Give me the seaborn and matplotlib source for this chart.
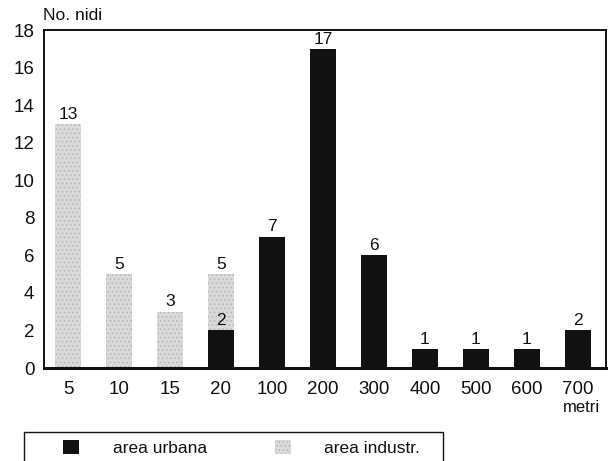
import matplotlib
matplotlib.use("Agg")
import matplotlib.pyplot as plt
from matplotlib.colors import to_rgba
from matplotlib.patches import Patch, Rectangle
import numpy as np
import pandas as pd
import seaborn as sns

# Distance classes (metres) and nest counts per area type
distanze = ["5", "10", "15", "20", "100", "200", "300", "400", "500", "600", "700"]
urbana = [np.nan, np.nan, np.nan, 2, 7, 17, 6, 1, 1, 1, 2]
industriale = [13, 5, 3, 5, np.nan, np.nan, np.nan, np.nan, np.nan, np.nan, np.nan]
y_ticks = [0, 2, 4, 6, 8, 10, 12, 14, 16, 18]

COL_URB = "#111111"
COL_IND = "#dadada"
DOT_IND = "#b4b4b4"

df = pd.DataFrame({
    "distanza": distanze * 2,
    "nidi": industriale + urbana,
    "area": ["area industr."] * len(distanze) + ["area urbana"] * len(distanze),
})

sns.set_theme(style="white")
plt.rcParams["font.family"] = ["Liberation Sans", "DejaVu Sans"]
plt.rcParams["hatch.linewidth"] = 0.6

fig = plt.figure(figsize=(6.16, 4.61), dpi=100)
ax = fig.add_axes([0.0714, 0.2017, 0.9124, 0.7332])

# industrial bars first so urban bars sit on top where both exist
sns.barplot(data=df, x="distanza", y="nidi", hue="area", order=distanze,
            hue_order=["area industr.", "area urbana"],
            palette={"area industr.": COL_IND, "area urbana": COL_URB},
            dodge=False, width=0.5, saturation=1, legend=False, ax=ax,
            edgecolor="none", linewidth=0)

# stippled texture on the industrial bars only
ind_rgba = to_rgba(COL_IND)
for p in ax.patches:
    if np.allclose(p.get_facecolor(), ind_rgba, atol=0.01):
        p.set_hatch("....")
        p.set_edgecolor(DOT_IND)
        p.set_linewidth(0)

for i, (u, ind) in enumerate(zip(urbana, industriale)):
    for v in (u, ind):
        if not np.isnan(v):
            ax.text(i, v + 0.12, f"{int(v)}", ha="center", va="bottom",
                    fontsize=12.5, color="#111111")

ax.set_ylim(0, 18)
ax.set_xlim(-0.47, 10.55)
ax.set_yticks(y_ticks)
ax.set_yticklabels([str(t) for t in y_ticks])
ax.set_xlabel("")
ax.set_ylabel("")
ax.tick_params(axis="both", length=0, labelsize=13.5, colors="#111111")
ax.tick_params(axis="x", pad=9)
ax.tick_params(axis="y", pad=7)
for s in ["left", "right", "top"]:
    ax.spines[s].set_color("#111111")
    ax.spines[s].set_linewidth(1.4)
ax.spines["bottom"].set_color("#111111")
ax.spines["bottom"].set_linewidth(2.2)

fig.text(43 / 616, 1 - 15 / 461, "No. nidi", fontsize=12.5, ha="left", va="center",
         color="#111111")
fig.text(581 / 616, 1 - 407 / 461, "metri", fontsize=12, ha="center", va="center",
         color="#111111")

# legend: entries without frame, open-bottomed box drawn around them
handles = [Patch(facecolor=COL_URB, edgecolor="none", label="area urbana"),
           Patch(facecolor=COL_IND, edgecolor=DOT_IND, hatch="....", linewidth=0,
                 label="area industr.")]
leg = fig.legend(handles=handles, ncol=2, loc="center left",
                 bbox_to_anchor=(63 / 616, 1 - 448 / 461), frameon=False,
                 fontsize=12.5, handlelength=0.92, handleheight=0.92,
                 handletextpad=1.95, columnspacing=3.9, borderpad=0,
                 borderaxespad=0)
for t in leg.get_texts():
    t.set_color("#111111")
fig.patches.append(Rectangle((24 / 616, -0.05), (443 - 24) / 616, 0.05 + (461 - 432) / 461,
                             transform=fig.transFigure, facecolor="none",
                             edgecolor="#111111", linewidth=1.0))

fig.savefig("out.png", dpi=100)
